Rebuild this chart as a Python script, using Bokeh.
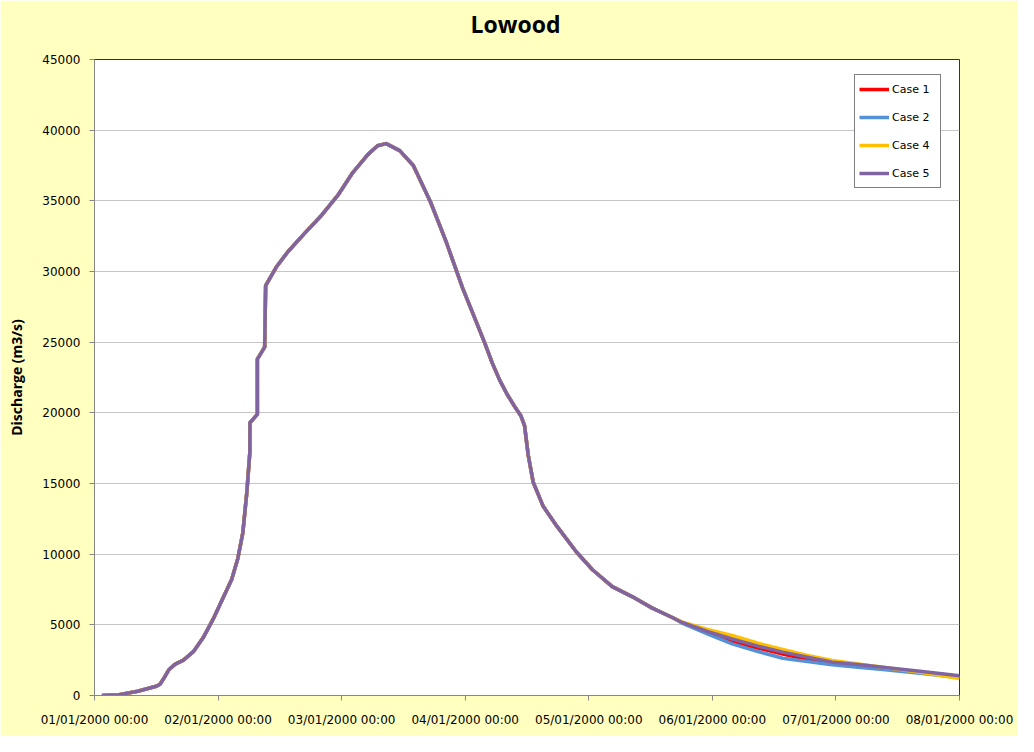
from bokeh.plotting import figure
from bokeh.models import FixedTicker, Legend, LegendItem, Range1d, NumeralTickFormatter, Title
from bokeh.embed import file_html
from bokeh.resources import INLINE

# ---- data (x in days since 01/01/2000 00:00, discharge in m3/s) ----
chart_title = "Lowood"
x_tick_labels = ["01/01/2000 00:00", "02/01/2000 00:00", "03/01/2000 00:00",
                 "04/01/2000 00:00", "05/01/2000 00:00", "06/01/2000 00:00",
                 "07/01/2000 00:00", "08/01/2000 00:00"]
y_ticks = [0, 5000, 10000, 15000, 20000, 25000, 30000, 35000, 40000, 45000]

# shared hydrograph (all cases practically coincide up to ~4.7 days)
common_days = [0.06, 0.20, 0.35, 0.50, 0.53, 0.56, 0.60, 0.65, 0.72, 0.80, 0.88,
               0.96, 1.04, 1.11, 1.16, 1.20, 1.233, 1.257, 1.258, 1.318, 1.318,
               1.377, 1.385, 1.47, 1.565, 1.70, 1.84, 1.97, 2.09, 2.21, 2.29,
               2.36, 2.47, 2.58, 2.72, 2.85, 2.98, 3.10, 3.16, 3.22, 3.28, 3.34,
               3.40, 3.45, 3.48, 3.51, 3.55, 3.63, 3.74, 3.90, 4.03, 4.19, 4.35,
               4.51, 4.68]
common_q = [0, 60, 300, 650, 800, 1200, 1800, 2200, 2500, 3100, 4100,
            5400, 6900, 8200, 9700, 11500, 14400, 17200, 19300, 19900, 23800,
            24650, 29000, 30300, 31400, 32700, 34000, 35400, 37000, 38250, 38900,
            39050, 38550, 37500, 34900, 32000, 28800, 26200, 24900, 23500, 22300, 21300,
            20450, 19800, 19100, 17000, 15100, 13400, 12000, 10150, 8900, 7700, 7000,
            6200, 5500]

# recession tails where the cases separate
tail_days = [4.76, 4.96, 5.16, 5.37, 5.57, 5.77, 5.97, 6.18, 6.38, 6.68, 7.00]
case1_tail = [5150, 4430, 3770, 3350, 2940, 2550, 2360, 2120, 1950, 1650, 1340]
case2_tail = [5100, 4360, 3650, 3110, 2640, 2405, 2170, 2000, 1840, 1580, 1280]
case4_tail = [5180, 4670, 4245, 3700, 3255, 2830, 2475, 2235, 2000, 1650, 1210]
case5_tail = [5150, 4530, 4000, 3490, 3070, 2710, 2360, 2190, 2000, 1720, 1400]

series_names = ["Case 1", "Case 2", "Case 4", "Case 5"]
series_colors = ["#FF0000", "#5591D6", "#FFC000", "#8064A2"]
series_tails = [case1_tail, case2_tail, case4_tail, case5_tail]

# ---- figure ----
p = figure(width=1018, height=736, output_backend="svg", toolbar_location=None,
           title=None,
           x_range=Range1d(0, 7), y_range=Range1d(0, 45000),
           min_border_left=94, min_border_right=59, min_border_top=59,
           min_border_bottom=41,
           background_fill_color="white", border_fill_color="#FFFFC0")

# spacer between frame and title, then the title itself
p.add_layout(Title(text=" ", text_font_size="6px", standoff=10), "above")
p.add_layout(Title(text=chart_title, text_font="Open Sans", text_font_size="23px",
                   text_font_style="bold", text_color="black", align="left",
                   offset=376, vertical_align="top", standoff=0), "above")

p.outline_line_color = "#333333"
p.outline_line_width = 1

p.xgrid.visible = False
p.ygrid.grid_line_color = "#C6C6C6"
p.ygrid.grid_line_width = 1

p.xaxis.ticker = FixedTicker(ticks=list(range(len(x_tick_labels))))
p.xaxis.major_label_overrides = {i: lab for i, lab in enumerate(x_tick_labels)}
p.yaxis.ticker = FixedTicker(ticks=y_ticks)
p.yaxis.formatter = NumeralTickFormatter(format="0")

for ax in (p.xaxis, p.yaxis):
    ax.axis_line_color = "#868686"
    ax.major_tick_line_color = "#868686"
    ax.major_tick_in = 0
    ax.major_tick_out = 5
    ax.minor_tick_line_color = None
    ax.major_label_text_font = "DejaVu Sans"
    ax.major_label_text_font_size = "12px"
    ax.major_label_text_color = "black"

p.xaxis.major_label_standoff = 12
p.yaxis.major_label_standoff = 9
p.yaxis.axis_label = "Discharge (m3/s)"
p.yaxis.axis_label_text_font = "Open Sans"
p.yaxis.axis_label_text_font_size = "14px"
p.yaxis.axis_label_text_font_style = "bold"
p.yaxis.axis_label_text_color = "black"
p.yaxis.axis_label_standoff = 13

items = []
for name, color, tail in zip(series_names, series_colors, series_tails):
    xs = common_days + tail_days
    ys = common_q + tail
    r = p.line(xs, ys, line_color=color, line_width=3.5, line_join="round")
    items.append(LegendItem(label=name, renderers=[r]))

legend = Legend(items=items, location=(760, 507),
                border_line_color="black", border_line_width=1,
                background_fill_color="white", background_fill_alpha=1,
                label_text_font="DejaVu Sans", label_text_font_size="11px",
                label_text_color="black",
                glyph_width=30, glyph_height=20, label_height=20,
                spacing=8, padding=4, label_standoff=3, label_width=44,
                margin=0)
p.add_layout(legend)

open("out.html", "w").write(file_html(p, INLINE))
